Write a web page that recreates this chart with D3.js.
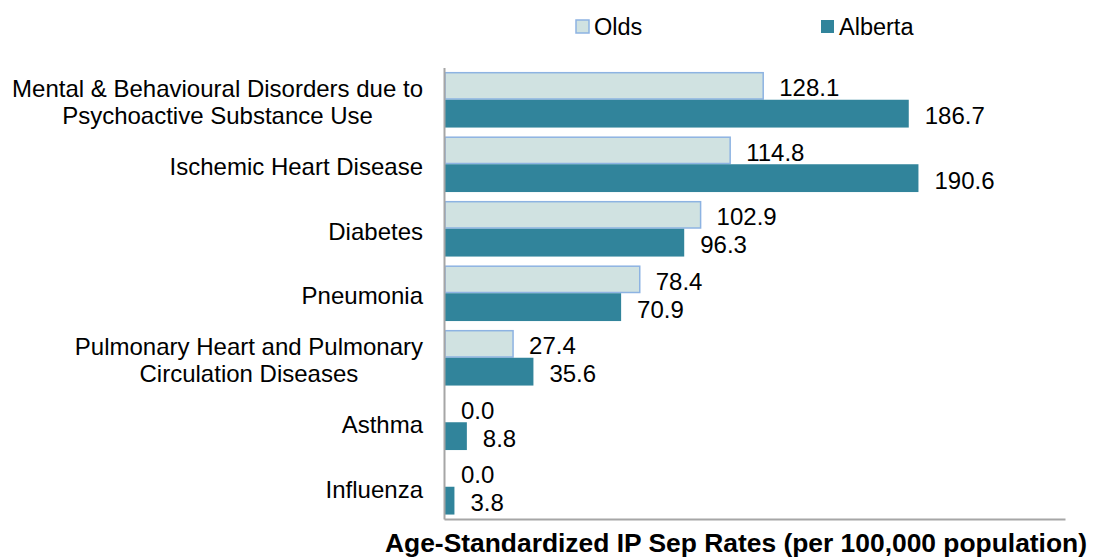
<!DOCTYPE html>
<html>
<head>
<meta charset="utf-8">
<script src="https://cdn.jsdelivr.net/npm/d3@7"></script>
<style>
  body { margin: 0; background: #fff; }
  svg { font-family: "Liberation Sans", Arial, sans-serif; }
</style>
</head>
<body>
<div id="chart"></div>
<script>
const categories = [
	'Mental & Behavioural Disorders due to\nPsychoactive Substance Use',
	'Ischemic Heart Disease',
	'Diabetes',
	'Pneumonia',
	'Pulmonary Heart and Pulmonary\nCirculation Diseases',
	'Asthma',
	'Influenza'
];
const series = ['Olds', 'Alberta'];
const olds = [128.1, 114.8, 102.9, 78.4, 27.4, 0.0, 0.0];
const alberta = [186.7, 190.6, 96.3, 70.9, 35.6, 8.8, 3.8];

const width = 1093, height = 558;
const fillColor = {Olds: '#d0e2e1', Alberta: '#31849b'};
const strokeColor = {Olds: '#8db3e2', Alberta: 'none'};

var svg = d3.select('#chart')
	.append('svg')
	.attr('width', width)
	.attr('height', height);

var xScale = d3.scaleLinear()
	.domain([0, 250])
	.range([445, 1066]);

var yScale = d3.scaleBand()
	.domain(categories)
	.range([67.5, 519])
	.paddingInner(0.138)
	.paddingOuter(0.069);

var ySub = d3.scaleBand()
	.domain(series)
	.range([0, yScale.bandwidth()]);

var rows = categories.map((c, i) => ({cat: c, Olds: olds[i], Alberta: alberta[i]}));

// bars
var groups = svg.append('g')
	.selectAll('g')
	.data(rows)
	.enter()
	.append('g')
	.attr('transform', d => `translate(0,${yScale(d.cat)})`);

series.forEach(s => {
	groups.append('rect')
		.attr('x', xScale(0))
		.attr('y', ySub(s) + (s == 'Olds' ? 0.75 : 0))
		.attr('width', d => Math.max(0, xScale(d[s]) - xScale(0)))
		.attr('height', ySub.bandwidth() - (s == 'Olds' ? 1.5 : 0))
		.attr('fill', fillColor[s])
		.attr('stroke', d => d[s] > 0 ? strokeColor[s] : 'none')
		.attr('stroke-width', 1.5);

	groups.append('text')
		.attr('x', d => xScale(d[s]) + 16)
		.attr('y', ySub(s) + ySub.bandwidth() / 2 + 2)
		.attr('dominant-baseline', 'central')
		.attr('font-size', 24)
		.attr('fill', '#000')
		.text(d => d3.format('.1f')(d[s]));
});

// axis lines
svg.append('g')
	.attr('transform', `translate(${xScale(0) - 1},0)`)
	.call(d3.axisLeft(yScale).tickSize(0).tickFormat(''))
	.call(g => g.select('.domain').attr('stroke', '#a6a6a6').attr('stroke-width', 2));

svg.append('g')
	.attr('transform', `translate(-1,${yScale.range()[1]})`)
	.call(d3.axisBottom(xScale).ticks(0).tickSizeOuter(0))
	.call(g => g.select('.domain').attr('stroke', '#a6a6a6').attr('stroke-width', 2));

// category labels, centred lines, block right aligned
const labelRight = 423;
categories.forEach(c => {
	var lines = c.split('\n');
	var t = svg.append('text')
		.attr('font-size', 24)
		.attr('fill', '#000')
		.attr('dominant-baseline', 'central');
	var cy = yScale(c) + yScale.bandwidth() / 2 + 2;
	var spans = lines.map((l, i) => t.append('tspan')
		.attr('y', cy + (i - (lines.length - 1) / 2) * 27)
		.text(l));
	var maxW = d3.max(spans, s => s.node().getComputedTextLength());
	spans.forEach(s => s.attr('x', labelRight - maxW / 2).attr('text-anchor', 'middle'));
});

// legend
const legendX = [576, 821];
series.forEach((s, i) => {
	svg.append('rect')
		.attr('x', legendX[i])
		.attr('y', 20)
		.attr('width', 13)
		.attr('height', 13)
		.attr('fill', fillColor[s])
		.attr('stroke', strokeColor[s])
		.attr('stroke-width', 1.5);
	svg.append('text')
		.attr('x', legendX[i] + 18)
		.attr('y', 27)
		.attr('dominant-baseline', 'central')
		.attr('font-size', 23.5)
		.text(s);
});

// x axis title
svg.append('text')
	.attr('x', 736)
	.attr('y', 552)
	.attr('text-anchor', 'middle')
	.attr('font-size', 26.4)
	.attr('font-weight', 'bold')
	.text('Age-Standardized IP Sep Rates (per 100,000 population)');
</script>
</body>
</html>
